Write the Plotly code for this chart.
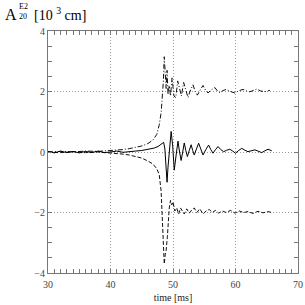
import plotly.graph_objects as go

# ---- data ----
t_solid = [30, 31, 32, 33, 34, 35, 36, 37, 38, 39, 40, 41, 42, 43, 44, 45, 46, 47, 47.6, 48.1, 48.5,
           48.7, 48.9, 49.05, 49.2, 49.45, 49.7, 49.95, 50.2, 50.5, 50.8, 51.05, 51.3, 51.55, 51.8,
           52.05, 52.3, 52.6, 52.9, 53.15, 53.4, 53.75, 54.1, 54.45, 54.8, 55.25, 55.7, 56.05, 56.4,
           56.8, 57.2, 57.65, 58.1, 58.6, 59.1, 59.55, 60.0, 60.5, 61.0, 61.5, 62.0, 62.5, 63.1,
           63.6, 64.2, 64.7, 65.2, 65.8]
v_solid = [0.02, -0.03, 0.03, -0.02, 0.02, -0.03, 0.02, -0.02, 0.03, -0.02, 0.0, 0.03, -0.01, 0.02,
           0.03, 0.05, 0.08, 0.13, 0.18, 0.25, 0.32,
           0.1, -0.6, -1.0, -0.5, 0.2, 0.68, 0.2, -0.6, -0.1, 0.36, 0.0, -0.28, 0.0, 0.3,
           0.05, -0.15, 0.05, 0.24, 0.05, -0.1, 0.1, 0.29, 0.1, -0.1, 0.08, 0.23, 0.08, -0.04,
           0.08, 0.18, 0.08, 0.01, 0.06, 0.09, 0.03, -0.04, 0.05, 0.12, 0.06, 0.01, 0.04, 0.07,
           0.03, -0.02, 0.04, 0.09, 0.04]

t_dashdot = [30, 32, 34, 36, 38, 40, 41, 42, 43, 44, 45, 46, 46.8, 47.4, 47.8, 48.1, 48.3, 48.45,
             48.6, 48.75, 48.9, 49.05, 49.2, 49.4, 49.6, 49.85, 50.15, 50.45, 50.75, 51.05, 51.35,
             51.7, 52.05, 52.4, 52.8, 53.2, 53.55, 53.9, 54.35, 54.8, 55.2, 55.6, 56.1, 56.7, 57.1,
             57.5, 58.0, 58.5, 59.2, 59.9, 60.5, 61.2, 61.8, 62.3, 62.9, 63.4, 64.0, 64.7, 65.5]
v_dashdot = [0.0, 0.02, 0.0, 0.03, 0.02, 0.04, 0.06, 0.08, 0.11, 0.15, 0.2, 0.28, 0.4, 0.58, 0.9,
             1.3, 1.75, 2.3, 3.15, 2.6, 2.1, 2.7, 1.9, 2.2, 1.85, 2.45, 1.85, 1.8, 2.35, 2.1, 1.85,
             2.3, 2.0, 1.8, 2.05, 2.22, 2.0, 1.88, 2.05, 2.2, 2.05, 1.95, 2.05, 2.13, 2.02, 1.96,
             2.03, 2.07, 2.0, 1.95, 2.02, 2.07, 2.02, 1.99, 2.04, 2.08, 2.02, 1.99, 2.04]

t_dashed = [30, 32, 34, 36, 38, 40, 41, 42, 43, 44, 45, 46, 46.8, 47.4, 47.8, 48.1, 48.3, 48.45,
            48.6, 48.75, 48.9, 49.1, 49.25, 49.4, 49.6, 49.8, 50.0, 50.3, 50.6, 50.9, 51.2, 51.5,
            51.8, 52.2, 52.6, 53.0, 53.4, 53.8, 54.3, 54.8, 55.3, 55.8, 56.3, 56.8, 57.3, 57.9,
            58.5, 59.2, 59.9, 60.6, 61.3, 62.0, 62.8, 63.6, 64.4, 65.2, 65.8]
v_dashed = [0.0, -0.02, 0.01, -0.02, 0.0, -0.03, -0.05, -0.07, -0.1, -0.14, -0.2, -0.3, -0.4,
            -0.55, -0.75, -1.3, -2.2, -3.0, -3.7, -3.4, -3.25, -2.8, -2.3, -1.85, -1.6, -1.75,
            -1.65, -1.95, -1.85, -2.05, -1.85, -1.95, -2.05, -1.88, -2.02, -1.92, -1.85, -2.0,
            -1.88, -2.05, -1.95, -1.9, -2.0, -1.93, -2.02, -1.95, -2.0, -1.93, -2.02, -1.95,
            -2.0, -1.97, -2.03, -1.96, -2.01, -1.97, -2.0]

x_range = [30, 70]
y_range = [-4, 4]

fig = go.Figure()
fig.add_trace(go.Scatter(x=t_dashdot, y=v_dashdot, mode="lines",
                         line=dict(color="#111111", width=1, dash="5px,2px,1px,2px")))
fig.add_trace(go.Scatter(x=t_dashed, y=v_dashed, mode="lines",
                         line=dict(color="#111111", width=1, dash="4px,2px")))
fig.add_trace(go.Scatter(x=t_solid, y=v_solid, mode="lines",
                         line=dict(color="#000000", width=1)))

axis_common = dict(
    showline=True, linecolor="#777777", linewidth=1, mirror="ticks",
    ticks="inside", ticklen=4, tickcolor="#777777",
    showgrid=True, gridcolor="#999999", griddash="1px,2px", gridwidth=1,
    zeroline=False, automargin=False, ticklabeloverflow="allow",
    tickfont=dict(family="Liberation Serif", size=10, color="#444444"),
)

fig.update_xaxes(range=x_range, tickmode="linear", tick0=30, dtick=10, ticklabelstandoff=2,
                 minor=dict(dtick=1, ticks="inside", ticklen=4, tickcolor="#777777", showgrid=False),
                 title=dict(text="time [ms]", font=dict(family="Liberation Serif", size=10, color="#222222"),
                            standoff=4),
                 **axis_common)
fig.update_yaxes(range=y_range, tickmode="linear", tick0=-4, dtick=2,
                 minor=dict(dtick=0.5, ticks="inside", ticklen=4, tickcolor="#777777", showgrid=False),
                 **axis_common)

ann_font = dict(family="Liberation Serif", size=16, color="#000000")
br_font = dict(family="Liberation Serif", size=14, color="#000000")
small_font = dict(family="Liberation Serif", size=8, color="#000000")
fig.update_layout(annotations=[
    dict(text="A", x=-0.18, y=1.070, xref="paper", yref="paper", showarrow=False,
         xanchor="left", yanchor="middle", font=ann_font),
    dict(text="E2", x=-0.124, y=1.101, xref="paper", yref="paper", showarrow=False,
         xanchor="left", yanchor="middle", font=small_font),
    dict(text="20", x=-0.124, y=1.060, xref="paper", yref="paper", showarrow=False,
         xanchor="left", yanchor="middle", font=small_font),
    dict(text="[10 <sup>3</sup> cm]", x=-0.066, y=1.070, xref="paper", yref="paper",
         showarrow=False, xanchor="left", yanchor="middle", font=br_font),
])

fig.update_layout(
    width=305, height=305,
    margin=dict(l=48, r=7, t=31, b=32),
    paper_bgcolor="white", plot_bgcolor="white",
    showlegend=False,
)

fig.write_html("out.html", config={"displayModeBar": False},
               post_script="document.body.style.margin='0';")
